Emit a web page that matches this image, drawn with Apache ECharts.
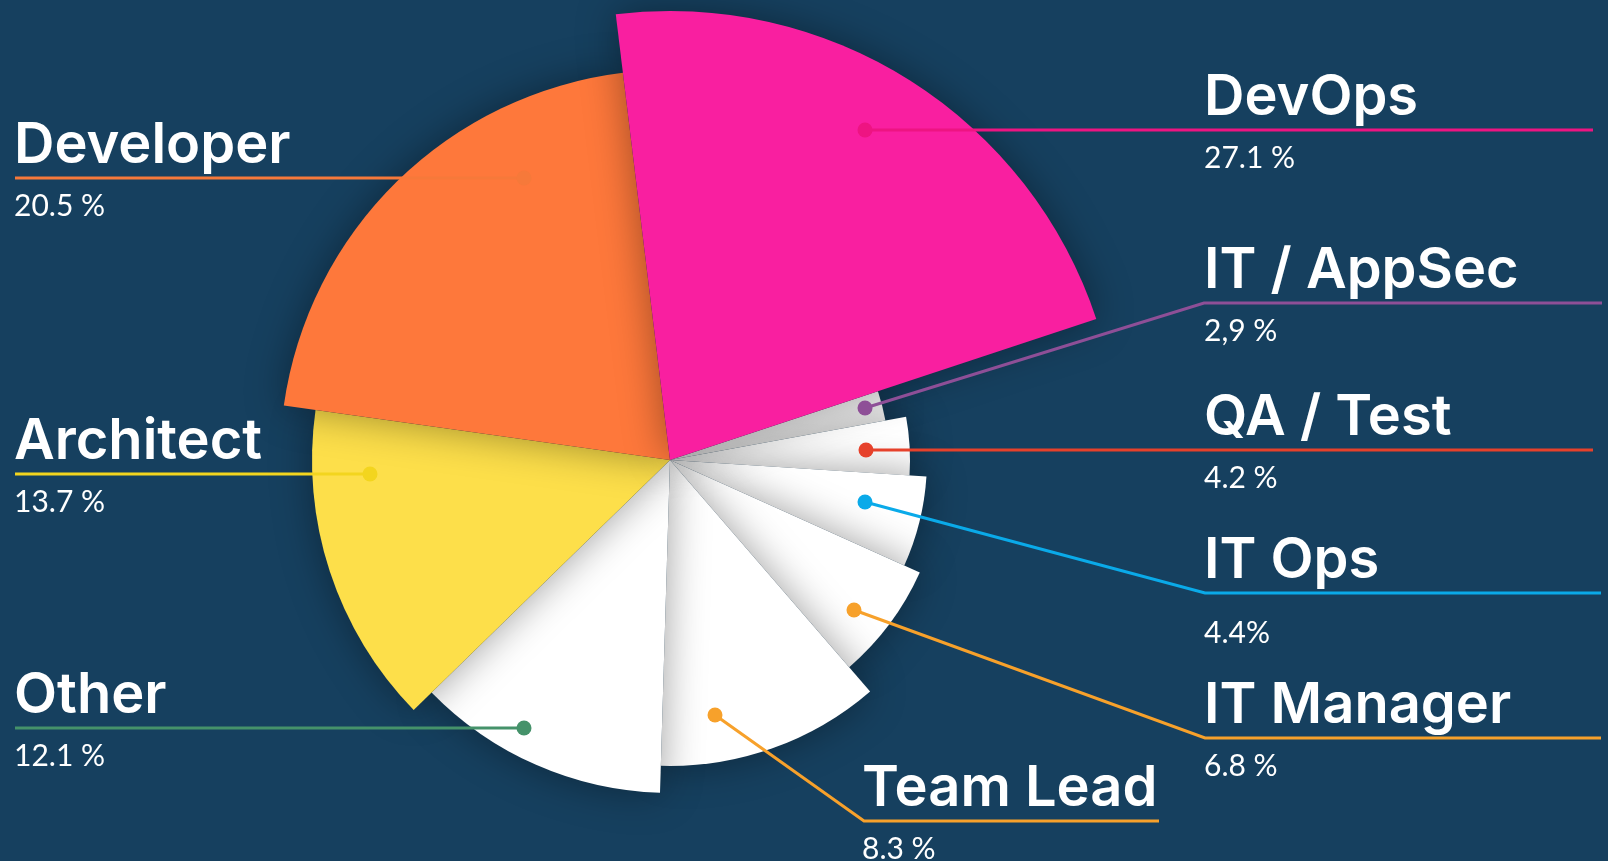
<!DOCTYPE html>
<html><head><meta charset="utf-8">
<script src="https://cdn.jsdelivr.net/npm/echarts@6/dist/echarts.min.js"></script>
<style>html,body{margin:0;padding:0;background:#16405f;overflow:hidden}#chart{width:1608px;height:861px}</style>
</head><body><div id="chart"></div>
<script>
// ---- data ----
const categories = ['DevOps', 'Developer', 'Architect', 'Other', 'Team Lead', 'IT Manager', 'IT Ops', 'QA / Test', 'IT / AppSec'];
const pctLabels = ['27.1 %', '20.5 %', '13.7 %', '12.1 %', '8.3 %', '6.8 %', '4.4%', '4.2 %', '2,9 %'];
// angular share of each slice as drawn in the picture (percent of the circle)
const sliceShare = [21.8, 20.8, 14.5, 12.2, 11.8, 6.9, 5.7, 3.9, 2.2];

// ---- styles / layout ----
const CENTER = [670, 460];
const START_ANGLE = 18.3;
const sliceRadius = [449, 390, 358, 333, 306, 274, 257, 240, 219];
const sliceColors = ['#f91fa0', '#fe783b', '#fddf4a', '#ffffff', '#ffffff', '#ffffff', '#ffffff', '#ffffff', '#ffffff'];
const accentColors = ['#ee1482', '#f6793a', '#f3d51e', '#45926a', '#f7a12b', '#f7a12b', '#0aaae9', '#e6412b', '#8e4f97'];
const labelLayouts = [
  { dot: [865, 130], bend: null,        end: 1593, textX: 1204, lineY: 130 },
  { dot: [524, 178], bend: null,        end: 15,   textX: 14,   lineY: 178 },
  { dot: [370, 474], bend: null,        end: 15,   textX: 14,   lineY: 474 },
  { dot: [524, 728], bend: null,        end: 15,   textX: 14,   lineY: 728 },
  { dot: [715, 715], bend: [864, 821],  end: 1159, textX: 862,  lineY: 821 },
  { dot: [854, 610], bend: [1205, 738], end: 1601, textX: 1204, lineY: 738 },
  { dot: [865, 502], bend: [1205, 593], end: 1601, textX: 1204, lineY: 593, low: true },
  { dot: [866, 450], bend: null,        end: 1593, textX: 1204, lineY: 450 },
  { dot: [865, 408], bend: [1204, 303], end: 1602, textX: 1204, lineY: 303 }
];

const chart = echarts.init(document.getElementById('chart'), null, { renderer: 'canvas' });
const HIDDEN = { color: 'rgba(0,0,0,0)', shadowBlur: 0, borderWidth: 0 };

const series = [];
// one pie per slice so each slice can have its own radius; angles come from the shared data
categories.forEach((name, i) => {
  series.push({
    type: 'pie',
    silent: true,
    z: 20 - i,
    center: CENTER,
    radius: [0, sliceRadius[i]],
    startAngle: START_ANGLE,
    clockwise: false,
    label: { show: false },
    labelLine: { show: false },
    emphasis: { disabled: true },
    data: categories.map((n, j) => ({
      name: n,
      value: sliceShare[j],
      itemStyle: j === i ? {
        color: sliceColors[i],
        shadowBlur: 40,
        shadowColor: 'rgba(0,0,0,0.38)'
      } : HIDDEN
    }))
  });
});

// label series on top
series.push({
  type: 'pie',
  silent: true,
  z: 50,
  center: CENTER,
  radius: [0, 200],
  startAngle: START_ANGLE,
  clockwise: false,
  avoidLabelOverlap: false,
  emphasis: { disabled: true },
  label: {
    show: true,
    position: 'outside',
    formatter: p => '{n|' + p.name + '}\n{' + (labelLayouts[p.dataIndex].low ? 'q' : 'p') + '|' + pctLabels[p.dataIndex] + '}',
    rich: {
      n: { fontFamily: 'Inter', fontSize: 56, fontWeight: 600, color: '#ffffff', lineHeight: 70 },
      p: { fontFamily: 'Lato', fontSize: 30, fontWeight: 400, color: '#ffffff', lineHeight: 51 },
      q: { fontFamily: 'Lato', fontSize: 30, fontWeight: 400, color: '#ffffff', lineHeight: 75 }
    }
  },
  labelLine: { show: true, lineStyle: { width: 3 } },
  labelLayout: function (params) {
    const L = labelLayouts[params.dataIndex];
    const pts = [L.dot];
    if (L.bend) pts.push(L.bend);
    pts.push([L.end, L.lineY]);
    return {
      x: L.textX,
      y: L.lineY - 67,
      align: 'left',
      verticalAlign: 'top',
      labelLinePoints: pts
    };
  },
  data: categories.map((n, j) => ({
    name: n,
    value: sliceShare[j],
    itemStyle: HIDDEN,
    labelLine: { lineStyle: { color: accentColors[j], width: 3 } }
  }))
});

chart.setOption({
  backgroundColor: '#16405f',
  animation: false,
  series: series,
  graphic: labelLayouts.map((L, j) => ({
    type: 'circle',
    z: 100,
    silent: true,
    shape: { cx: L.dot[0], cy: L.dot[1], r: 7.5 },
    style: { fill: accentColors[j] }
  }))
});
</script></body></html>
